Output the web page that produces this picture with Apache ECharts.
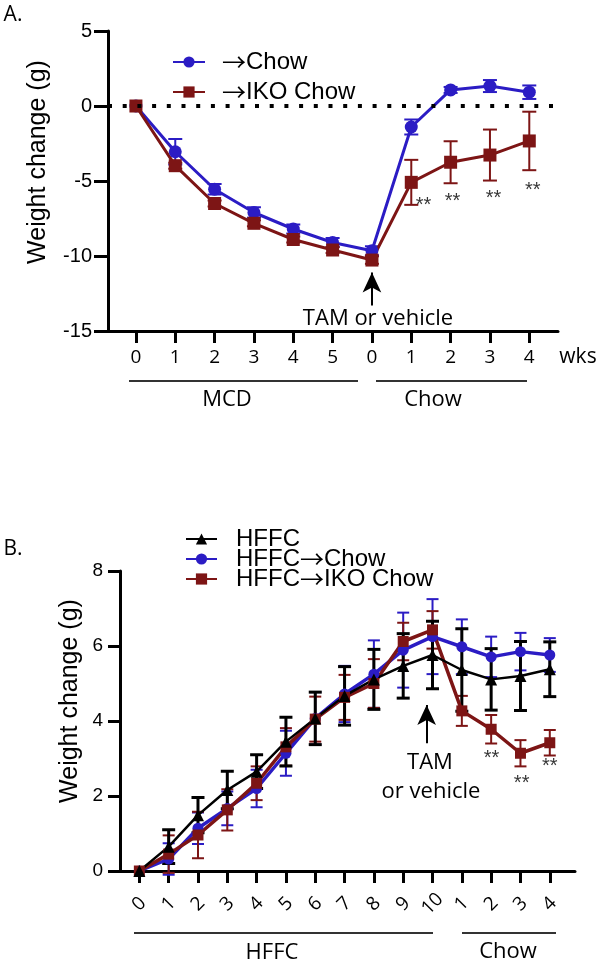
<!DOCTYPE html>
<html>
<head>
<meta charset="utf-8">
<script src="https://cdn.jsdelivr.net/npm/echarts@6/dist/echarts.min.js"></script>
<style>
  html, body { margin: 0; padding: 0; background: #fff; }
  #main { width: 602px; height: 966px; }
</style>
</head>
<body>
<div id="main"></div>
<script>
// ---- panel A : MCD then chow ----
var weeksA = ['0', '1', '2', '3', '4', '5', '0', '1', '2', '3', '4'];
var chowA = [0, -3.05, -5.55, -7.1, -8.2, -9.1, -9.65, -1.4, 1.07, 1.33, 0.92];
var chowErrA = [0, 0.85, 0.35, 0.35, 0.3, 0.3, 0.3, 0.5, 0.2, 0.4, 0.45];
var ikoA = [0, -3.98, -6.5, -7.82, -8.9, -9.6, -10.27, -5.09, -3.75, -3.27, -2.33];
var ikoErrA = [0, 0.2, 0.2, 0.2, 0.2, 0.2, 0.25, 1.5, 1.4, 1.7, 1.95];
var starsXA = [7.31, 8.05, 9.09, 10.09];
var starsYA = [-6.27, -6.0, -5.8, -5.27];
var ticksYA = [-15, 5];

// ---- panel B : HFFC then chow ----
var weeksB = ['0', '1', '2', '3', '4', '5', '6', '7', '8', '9', '10', '1', '2', '3', '4'];
var hffcB = [0, 0.65, 1.49, 2.16, 2.65, 3.45, 4.07, 4.67, 5.11, 5.47, 5.76, 5.36, 5.11, 5.2, 5.38];
var hffcErrB = [0, 0.45, 0.47, 0.5, 0.45, 0.65, 0.7, 0.78, 0.8, 0.86, 0.9, 1.1, 0.82, 0.92, 0.73];
var chowB = [0, 0.32, 1.14, 1.67, 2.2, 3.14, 4.07, 4.72, 5.25, 5.89, 6.25, 5.98, 5.71, 5.85, 5.76];
var chowErrB = [0, 0.42, 0.42, 0.45, 0.5, 0.6, 0.7, 0.75, 0.9, 1.0, 1.0, 0.73, 0.54, 0.5, 0.45];
var ikoB = [0, 0.45, 0.96, 1.63, 2.34, 3.31, 4.05, 4.63, 5.0, 6.12, 6.43, 4.27, 3.78, 3.14, 3.42];
var ikoErrB = [0, 0.5, 0.62, 0.55, 0.45, 0.5, 0.6, 0.6, 0.65, 0.5, 0.5, 0.4, 0.38, 0.35, 0.34];
var starsXB = [12.01, 13.04, 14.0];
var starsYB = [3.14, 2.47, 2.91];
var ticksYB = [0, 8];

var BLUE = '#2b1cc4';
var RED = '#7d1515';
var BLACK = '#000';
var ARIAL = 'Liberation Sans';
var MYRIAD = 'Open Sans';

function pts(values) {
    return values.map(function (v, i) { return [i, v]; });
}
function errPts(values, errs) {
    return values.map(function (v, i) { return [i, v, errs[i]]; });
}
function starPts(xs, ys) {
    return xs.map(function (x, i) { return [x, ys[i]]; });
}
function range(n) {
    var r = [];
    for (var i = 0; i < n; i++) r.push(i);
    return r;
}

// error bars drawn through the axes
function errorBar(color, width, capHalf) {
    return function (params, api) {
        var x = api.value(0), y = api.value(1), e = api.value(2);
        if (!e) return null;
        var top = api.coord([x, y + e]);
        var bot = api.coord([x, y - e]);
        var st = { stroke: color, lineWidth: width };
        return {
            type: 'group',
            children: [
                { type: 'line', shape: { x1: top[0], y1: top[1], x2: bot[0], y2: bot[1] }, style: st },
                { type: 'line', shape: { x1: top[0] - capHalf, y1: top[1], x2: top[0] + capHalf, y2: top[1] }, style: st },
                { type: 'line', shape: { x1: bot[0] - capHalf, y1: bot[1], x2: bot[0] + capHalf, y2: bot[1] }, style: st }
            ]
        };
    };
}

function errSeries(idx, values, errs, color, width, capHalf) {
    return {
        type: 'custom', xAxisIndex: idx, yAxisIndex: idx,
        renderItem: errorBar(color, width, capHalf),
        data: errPts(values, errs),
        encode: { x: 0, y: 1 },
        silent: true
    };
}

function lineSeries(idx, name, values, color, symbol, size, width) {
    return {
        type: 'line', name: name, xAxisIndex: idx, yAxisIndex: idx,
        data: pts(values),
        symbol: symbol, symbolSize: size,
        itemStyle: { color: color },
        lineStyle: { color: color, width: width },
        emphasis: { disabled: true },
        animation: false
    };
}

function starSeries(idx, xs, ys) {
    return {
        type: 'scatter', xAxisIndex: idx, yAxisIndex: idx,
        data: starPts(xs, ys),
        symbolSize: 1, itemStyle: { color: 'rgba(0,0,0,0)' },
        label: { show: true, position: 'inside', formatter: '**', color: '#000',
                 fontFamily: ARIAL, fontSize: 20, offset: [0, 5] },
        silent: true, z: 10
    };
}

function xAxisOf(idx, min, max, labels, extra) {
    var vals = range(labels.length);
    var ax = {
        gridIndex: idx, type: 'value', min: min, max: max,
        axisLine: { show: true, onZero: false, lineStyle: { color: BLACK, width: 3 } },
        axisTick: { show: true, customValues: vals, length: 12, lineStyle: { color: BLACK, width: 3 } },
        axisLabel: { customValues: vals, color: BLACK, fontFamily: MYRIAD, fontSize: 19,
                     verticalAlign: 'middle', margin: 27,
                     formatter: function (v) { return labels[Math.round(v)]; } },
        splitLine: { show: false }
    };
    if (extra) Object.assign(ax.axisLabel, extra);
    return ax;
}

function yAxisOf(idx, ticks, interval, fontSize, tickLen, margin) {
    return {
        gridIndex: idx, type: 'value', min: ticks[0], max: ticks[1], interval: interval,
        axisLine: { show: true, onZero: false, lineStyle: { color: BLACK, width: 3 } },
        axisTick: { show: true, length: tickLen, lineStyle: { color: BLACK, width: 3 } },
        axisLabel: { color: BLACK, fontFamily: ARIAL, fontSize: fontSize, margin: margin },
        splitLine: { show: false }
    };
}

function txt(x, y, text, size, family, rotation) {
    return {
        type: 'text', x: x, y: y, rotation: rotation || 0, silent: true,
        style: { text: text, fill: '#000', font: size + 'px "' + family + '"',
                 align: 'center', verticalAlign: 'middle' }
    };
}
function rule(x1, x2, y) {
    return { type: 'line', silent: true, shape: { x1: x1, y1: y, x2: x2, y2: y },
             style: { stroke: '#333', lineWidth: 2 } };
}

// the arrow glyph in legend names gets its own thin font
function legendText(size) {
    return {
        fontFamily: ARIAL, fontSize: size, color: '#000',
        rich: {
            a: { fontFamily: 'Noto Sans CJK SC', fontSize: size, color: '#000' },
            t: { fontFamily: ARIAL, fontSize: size, color: '#000' }
        }
    };
}
function legendFormat(name) {
    var parts = name.split('\u2192');
    if (parts.length < 2) return '{t|' + name + '}';
    return '{t|' + parts[0] + '}{a|\u2192}{t|' + parts[1] + '}';
}

var chart = echarts.init(document.getElementById('main'));

var sChowA = lineSeries(0, '\u2192Chow', chowA, BLUE, 'circle', 13, 3);
sChowA.markLine = {
    silent: true, symbol: 'none', label: { show: false },
    lineStyle: { color: BLACK, width: 4, type: [4, 10.7] },
    data: [{ yAxis: 0 }]
};
var sIkoA = lineSeries(0, '\u2192IKO Chow', ikoA, RED, 'rect', 13, 3);
sIkoA.markLine = {
    silent: true, symbol: ['none', 'arrow'], symbolSize: [14, 20], label: { show: false },
    lineStyle: { color: BLACK, width: 2, type: 'solid' },
    data: [[{ coord: [6, -13.3] }, { coord: [6, -11.1] }]]
};

var sHffcB = lineSeries(1, 'HFFC', hffcB, BLACK, 'triangle', 12, 2.5);
var sChowB = lineSeries(1, 'HFFC\u2192Chow', chowB, BLUE, 'circle', 11, 3.5);
var sIkoB = lineSeries(1, 'HFFC\u2192IKO Chow', ikoB, RED, 'rect', 11, 3.5);
sIkoB.markLine = {
    silent: true, symbol: ['none', 'arrow'], symbolSize: [14, 20], label: { show: false },
    lineStyle: { color: BLACK, width: 2, type: 'solid' },
    data: [[{ coord: [9.8, 3.41] }, { coord: [9.8, 4.43] }]]
};

var legA = legendText(24);
legA.padding = [0, 0, 0, 12];
var legB = legendText(24);
legB.padding = [0, 0, 0, 14];

var option = {
    backgroundColor: '#fff',
    animation: false,
    grid: [
        { left: 108, top: 31, width: 450, height: 300 },
        { left: 120, top: 571, width: 455, height: 300 }
    ],
    xAxis: [
        xAxisOf(0, -0.71, 10.73, weeksA),
        xAxisOf(1, -0.66, 14.86, weeksB, { rotate: 45, align: 'center', verticalAlign: 'middle', margin: 33 })
    ],
    yAxis: [
        yAxisOf(0, ticksYA, 5, 20, 14, 16),
        yAxisOf(1, ticksYB, 2, 19, 12, 17)
    ],
    legend: [
        { orient: 'vertical', left: 167, top: 45, itemWidth: 32, itemHeight: 14, itemGap: 6,
          data: ['\u2192Chow', '\u2192IKO Chow'], formatter: legendFormat, textStyle: legA },
        { orient: 'vertical', left: 180, top: 522, itemWidth: 31, itemHeight: 14, itemGap: -4,
          data: ['HFFC', 'HFFC\u2192Chow', 'HFFC\u2192IKO Chow'], formatter: legendFormat, textStyle: legB }
    ],
    graphic: [
        txt(13, 15, 'A.', 21, MYRIAD),
        txt(13, 549, 'B.', 21, MYRIAD),
        txt(38, 162, 'Weight change (g)', 25, ARIAL, Math.PI / 2),
        txt(70, 701, 'Weight change (g)', 25, ARIAL, Math.PI / 2),
        txt(378, 319, 'TAM or vehicle', 22, MYRIAD),
        txt(578, 357, 'wks', 21, MYRIAD),
        rule(129, 358, 381),
        rule(376, 527, 381),
        txt(227, 400, 'MCD', 22, MYRIAD),
        txt(433, 400, 'Chow', 22, MYRIAD),
        txt(430, 763, 'TAM', 22, MYRIAD),
        txt(431, 792, 'or vehicle', 22, MYRIAD),
        rule(134, 433, 933),
        rule(462, 556, 933),
        txt(272, 953, 'HFFC', 22, MYRIAD),
        txt(508, 952, 'Chow', 22, MYRIAD)
    ],
    series: [
        errSeries(0, chowA, chowErrA, BLUE, 2, 7),
        sChowA,
        errSeries(0, ikoA, ikoErrA, RED, 2, 7),
        sIkoA,
        starSeries(0, starsXA, starsYA),
        errSeries(1, chowB, chowErrB, BLUE, 2, 6),
        sChowB,
        errSeries(1, ikoB, ikoErrB, RED, 2, 6),
        sIkoB,
        errSeries(1, hffcB, hffcErrB, BLACK, 3, 6.5),
        sHffcB,
        starSeries(1, starsXB, starsYB)
    ]
};

chart.setOption(option);
</script>
</body>
</html>
